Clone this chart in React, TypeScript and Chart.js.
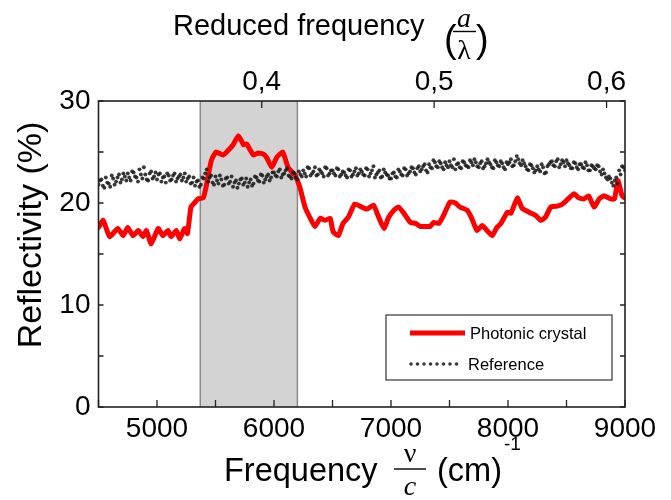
import React, { useEffect, useRef } from 'react';
import { Chart, registerables } from 'chart.js';

Chart.register(...registerables);

// ---------- data ----------
const freqMin = 4500;
const freqMax = 9000;
const latticeA = 0.4 / 5895; // reduced frequency = latticeA * frequency
const bandStart = 5370;
const bandEnd = 6200;

const xTicks = [5000, 6000, 7000, 8000, 9000];
const xTickMarks = [4500, 5000, 5500, 6000, 6500, 7000, 7500, 8000, 8500, 9000];
const yTicks = [0, 10, 20, 30];
const yTickMarks = [0, 5, 10, 15, 20, 25, 30];
const topTicks = [0.4, 0.5, 0.6];

const crystalFreq = [
  4500, 4540, 4595, 4665, 4710, 4750, 4795, 4840, 4880, 4910,
  4950, 5010, 5050, 5095, 5120, 5165, 5195, 5235, 5260, 5290,
  5320, 5350, 5395, 5420, 5465, 5505, 5565, 5620, 5650, 5695,
  5740, 5765, 5825, 5865, 5910, 5940, 5980, 6025, 6075, 6120,
  6180, 6220, 6265, 6310, 6350, 6395, 6435, 6480, 6505, 6550,
  6590, 6635, 6690, 6750, 6795, 6850, 6895, 6940, 6980, 7025,
  7065, 7110, 7165, 7210, 7250, 7295, 7335, 7365, 7410, 7450,
  7505, 7550, 7590, 7650, 7690, 7735, 7780, 7820, 7865, 7905,
  7940, 7995, 8025, 8080, 8120, 8180, 8235, 8280, 8320, 8365,
  8420, 8465, 8505, 8565, 8605, 8650, 8690, 8735, 8780, 8820,
  8880, 8910, 8940, 8975, 9000,
];
const crystalRefl = [
  17.6, 18.3, 16.7, 17.5, 16.8, 17.6, 16.8, 17.3, 16.7, 17.3,
  16.0, 17.5, 16.8, 17.3, 16.7, 17.3, 16.5, 17.5, 17.0, 19.6,
  20.0, 20.4, 20.5, 21.6, 24.2, 25.0, 24.7, 25.3, 25.7, 26.6,
  25.7, 25.8, 24.7, 24.9, 24.8, 24.4, 23.5, 24.5, 25.0, 23.5,
  22.7, 21.6, 19.6, 18.5, 17.7, 18.5, 18.3, 18.5, 17.2, 16.8,
  18.0, 18.6, 19.9, 19.6, 19.4, 19.8, 18.6, 17.5, 18.6, 19.3,
  19.6, 19.0, 18.1, 18.0, 17.7, 17.7, 17.7, 18.1, 18.0, 18.8,
  20.1, 20.0, 19.6, 19.3, 18.5, 17.3, 17.8, 17.3, 16.8, 17.6,
  18.0, 19.1, 19.0, 20.5, 19.5, 19.1, 18.8, 18.3, 18.6, 19.6,
  19.7, 19.9, 20.3, 20.9, 20.5, 20.4, 20.7, 19.6, 20.4, 20.7,
  20.4, 20.4, 22.2, 20.7, 20.5,
];

// reference measurement, two interleaved sample grids (every 25 cm^-1)
const refStartA = 4500;
const refStartB = 4512.5;
const refStep = 25;
const referenceReflA = [
  21.8, 22.3, 21.5, 22.0, 21.6, 22.4, 22.1, 22.8, 22.3, 22.6,
  22.9, 22.2, 23.0, 22.5, 23.3, 22.4, 22.8, 22.2, 23.1, 22.6,
  22.3, 22.9, 22.5, 22.0, 22.7, 22.3, 22.9, 22.4, 22.8, 22.5,
  22.1, 22.6, 22.0, 21.7, 22.2, 21.8, 22.4, 23.3, 22.5, 22.0,
  22.6, 21.9, 22.3, 21.8, 22.5, 22.1, 21.6, 22.2, 21.9, 22.4,
  22.0, 21.6, 22.3, 21.9, 22.5, 22.1, 22.7, 22.3, 22.8, 22.5,
  23.0, 22.6, 23.3, 22.8, 23.2, 22.7, 22.4, 22.9, 22.3, 22.8,
  23.2, 22.6, 23.4, 22.9, 23.5, 22.8, 23.1, 22.6, 23.4, 22.9,
  23.2, 22.7, 23.3, 22.8, 23.0, 22.5, 23.2, 22.8, 23.4, 22.9,
  23.1, 22.7, 23.3, 22.9, 23.6, 22.8, 23.2, 22.6, 23.0, 22.7,
  22.4, 23.0, 22.5, 23.1, 22.7, 23.3, 22.9, 23.5, 23.0, 23.4,
  23.1, 23.6, 23.2, 23.8, 23.4, 24.0, 23.5, 23.9, 23.3, 23.7,
  24.1, 23.5, 23.3, 23.9, 23.4, 24.0, 23.6, 24.2, 23.7, 24.0,
  23.5, 24.1, 23.6, 24.3, 23.8, 23.4, 24.0, 23.6, 23.9, 23.3,
  23.8, 24.3, 23.7, 24.6, 23.9, 24.2, 23.6, 23.2, 23.7, 23.0,
  23.6, 23.1, 23.5, 23.0, 23.8, 24.1, 23.6, 24.3, 23.8, 24.0,
  24.2, 23.7, 23.4, 23.9, 23.3, 23.8, 23.4, 23.7, 23.2, 23.6,
  23.3, 23.6, 22.8, 22.9, 22.3, 22.4, 21.7, 22.5, 23.2, 23.6,
  23.2,
];
const referenceReflB = [
  22.2, 21.7, 22.5, 21.9, 22.7, 21.8, 22.5, 22.0, 22.9, 22.2,
  22.5, 23.1, 22.6, 22.1, 22.8, 23.5, 22.3, 22.9, 22.4, 23.0,
  22.8, 22.1, 22.6, 22.9, 22.2, 22.7, 22.1, 22.6, 22.2, 22.9,
  22.4, 21.9, 22.5, 22.1, 21.6, 22.5, 22.9, 22.1, 22.7, 21.8,
  22.2, 22.7, 21.7, 22.4, 21.9, 22.6, 22.0, 21.5, 22.3, 21.8,
  22.4, 22.0, 21.7, 22.6, 22.2, 22.8, 22.0, 22.6, 22.2, 23.0,
  22.7, 23.1, 22.5, 22.9, 23.4, 22.6, 23.0, 22.5, 23.1, 22.6,
  22.9, 23.5, 22.7, 23.1, 22.7, 23.3, 22.9, 23.5, 22.7, 23.2,
  22.9, 23.4, 22.6, 23.1, 22.7, 23.3, 22.6, 23.1, 22.7, 23.3,
  22.8, 23.4, 22.6, 23.2, 22.5, 23.0, 22.5, 23.3, 22.8, 22.4,
  22.9, 22.6, 23.3, 22.8, 23.4, 22.7, 23.1, 23.4, 22.8, 23.6,
  23.3, 23.8, 23.0, 23.5, 24.2, 23.6, 24.1, 23.5, 24.0, 23.5,
  23.7, 24.3, 23.8, 23.5, 24.1, 23.7, 23.5, 24.0, 24.3, 23.6,
  23.9, 23.4, 23.9, 24.0, 23.5, 24.2, 23.7, 24.1, 23.5, 24.0,
  24.0, 23.6, 24.1, 24.3, 23.7, 23.9, 23.3, 23.8, 23.4, 23.2,
  23.3, 23.8, 22.9, 23.6, 24.0, 23.7, 24.1, 23.5, 24.2, 23.6,
  23.9, 23.4, 24.0, 23.5, 23.8, 23.5, 24.0, 23.2, 23.7, 23.4,
  23.7, 23.1, 23.3, 22.5, 22.6, 22.0, 22.2, 21.9, 22.8, 23.5,
];

const legendLabels = ['Photonic crystal', 'Reference'];

// ---------- styles ----------
const SANS = '"Liberation Sans", Arial, Helvetica, sans-serif';
const SERIF = '"Liberation Serif", "DejaVu Serif", serif';
const RED = 'rgb(255,0,0)';
const DOT = 'rgba(30,30,30,0.88)';

const decor = {
  id: 'decor',
  beforeDatasetsDraw(chart: any) {
    const { ctx, chartArea: a, scales } = chart;
    const x = scales.x;
    const x0 = x.getPixelForValue(bandStart);
    const x1 = x.getPixelForValue(bandEnd);
    ctx.save();
    ctx.fillStyle = '#d3d3d3';
    ctx.fillRect(x0, a.top, x1 - x0, a.bottom - a.top);
    ctx.strokeStyle = '#8a8a8a';
    ctx.lineWidth = 1.5;
    ctx.beginPath();
    ctx.moveTo(x0, a.top);
    ctx.lineTo(x0, a.bottom);
    ctx.moveTo(x1, a.top);
    ctx.lineTo(x1, a.bottom);
    ctx.stroke();
    ctx.restore();
  },
  afterDatasetsDraw(chart: any) {
    const { ctx, chartArea: a, scales } = chart;
    const x = scales.x;
    const x2 = scales.x2;
    const y = scales.y;
    ctx.save();
    ctx.strokeStyle = '#222';
    ctx.lineWidth = 1.6;
    ctx.strokeRect(a.left, a.top, a.right - a.left, a.bottom - a.top);
    ctx.lineWidth = 1.3;
    ctx.beginPath();
    xTickMarks.forEach((v) => {
      const px = x.getPixelForValue(v);
      ctx.moveTo(px, a.bottom);
      ctx.lineTo(px, a.bottom - 7);
    });
    topTicks.forEach((v) => {
      const px = x2.getPixelForValue(v);
      ctx.moveTo(px, a.top);
      ctx.lineTo(px, a.top + 7);
    });
    yTickMarks.forEach((v) => {
      const py = y.getPixelForValue(v);
      ctx.moveTo(a.left, py);
      ctx.lineTo(a.left + 5, py);
      ctx.moveTo(a.right, py);
      ctx.lineTo(a.right - 5, py);
    });
    ctx.stroke();

    // legend
    const lx = 386, ly = 315, lw = 226, lh = 65;
    ctx.fillStyle = '#fff';
    ctx.fillRect(lx, ly, lw, lh);
    ctx.strokeStyle = '#333';
    ctx.lineWidth = 1.2;
    ctx.strokeRect(lx, ly, lw, lh);
    ctx.strokeStyle = RED;
    ctx.lineWidth = 5;
    ctx.beginPath();
    ctx.moveTo(410, 333);
    ctx.lineTo(465, 333);
    ctx.stroke();
    ctx.fillStyle = DOT;
    for (let px = 411; px <= 460; px += 6.5) {
      ctx.beginPath();
      ctx.arc(px, 364, 1.8, 0, Math.PI * 2);
      ctx.fill();
    }
    ctx.fillStyle = '#000';
    ctx.font = `16.5px ${SANS}`;
    ctx.textAlign = 'left';
    ctx.textBaseline = 'middle';
    ctx.fillText(legendLabels[0], 470, 334);
    ctx.fillText(legendLabels[1], 468, 365);
    ctx.restore();
  },
  afterDraw(chart: any) {
    const { ctx } = chart;
    ctx.save();
    ctx.fillStyle = '#000';
    ctx.strokeStyle = '#000';
    ctx.textBaseline = 'alphabetic';

    // top title
    ctx.textAlign = 'left';
    ctx.font = `29px ${SANS}`;
    ctx.fillText('Reduced frequency', 173, 35);
    ctx.font = `38px ${SANS}`;
    ctx.fillText('(', 444, 52);
    ctx.fillText(')', 476, 52);
    ctx.textAlign = 'center';
    ctx.font = `italic 28px ${SERIF}`;
    ctx.fillText('a', 464, 27);
    ctx.font = `28px ${SERIF}`;
    ctx.fillText('λ', 464, 59);
    ctx.lineWidth = 1.4;
    ctx.beginPath();
    ctx.moveTo(453, 31.5);
    ctx.lineTo(476, 31.5);
    ctx.stroke();

    // bottom title
    ctx.textAlign = 'left';
    ctx.font = `32.5px ${SANS}`;
    ctx.fillText('Frequency', 224, 481);
    ctx.fillText('(cm)', 437, 481);
    ctx.font = `19px ${SANS}`;
    ctx.fillText('-1', 504, 450);
    ctx.textAlign = 'center';
    ctx.font = `28px ${SERIF}`;
    ctx.fillText('ν', 410, 462);
    ctx.font = `italic 28px ${SERIF}`;
    ctx.fillText('c', 410, 495);
    ctx.beginPath();
    ctx.moveTo(394, 469);
    ctx.lineTo(426, 469);
    ctx.stroke();

    // left title
    ctx.translate(41, 235);
    ctx.rotate(-Math.PI / 2);
    ctx.textAlign = 'center';
    ctx.font = `34px ${SANS}`;
    ctx.fillText('Reflectivity (%)', 0, 0);
    ctx.restore();
  },
};

export default function App() {
  const ref = useRef<HTMLCanvasElement | null>(null);

  useEffect(() => {
    if (!ref.current) return;
    const crystal = crystalFreq.map((f, i) => ({ x: f, y: crystalRefl[i] }));
    const referenceA = referenceReflA.map((r, i) => ({ x: refStartA + i * refStep, y: r }));
    const referenceB = referenceReflB.map((r, i) => ({ x: refStartB + i * refStep, y: r }));
    const tickFont = { family: SANS, size: 28 };
    const dotStyle = {
      showLine: false,
      pointRadius: 1.95,
      pointBackgroundColor: DOT,
      pointBorderWidth: 0,
      borderColor: DOT,
      backgroundColor: DOT,
    };

    const chart = new Chart(ref.current, {
      type: 'line',
      data: {
        datasets: [
          { label: legendLabels[1], data: referenceA, ...dotStyle },
          { label: legendLabels[1] + ' ', data: referenceB, ...dotStyle },
          {
            label: legendLabels[0],
            data: crystal,
            borderColor: RED,
            backgroundColor: RED,
            borderWidth: 5,
            pointRadius: 0,
            tension: 0.15,
            borderJoinStyle: 'round',
            borderCapStyle: 'round',
          },
        ],
      },
      options: {
        responsive: false,
        animation: false,
        events: [],
        devicePixelRatio: 1,
        layout: { padding: { left: 0, right: 46, top: 0, bottom: 0 } },
        plugins: { legend: { display: false }, tooltip: { enabled: false } },
        scales: {
          x: {
            type: 'linear',
            position: 'bottom',
            min: freqMin,
            max: freqMax,
            afterBuildTicks: (s: any) => {
              s.ticks = xTicks.map((v) => ({ value: v }));
            },
            afterFit: (s: any) => {
              s.height = 93;
            },
            grid: { display: false, drawTicks: false },
            border: { display: false },
            ticks: {
              font: tickFont,
              color: '#000',
              padding: 5,
              autoSkip: false,
              maxRotation: 0,
              callback: (v: any) => String(v),
            },
          },
          x2: {
            type: 'linear',
            position: 'top',
            min: freqMin * latticeA,
            max: freqMax * latticeA,
            afterBuildTicks: (s: any) => {
              s.ticks = topTicks.map((v) => ({ value: v }));
            },
            afterFit: (s: any) => {
              s.height = 101;
            },
            grid: { display: false, drawTicks: false },
            border: { display: false },
            ticks: {
              font: tickFont,
              color: '#000',
              padding: 2,
              autoSkip: false,
              maxRotation: 0,
              callback: (v: any) => Number(v).toFixed(1).replace('.', ','),
            },
          },
          y: {
            type: 'linear',
            position: 'left',
            min: 0,
            max: 30,
            afterBuildTicks: (s: any) => {
              s.ticks = yTicks.map((v) => ({ value: v }));
            },
            afterFit: (s: any) => {
              s.width = 98.5;
            },
            grid: { display: false, drawTicks: false },
            border: { display: false },
            ticks: {
              font: tickFont,
              color: '#000',
              padding: 8,
              autoSkip: false,
              callback: (v: any) => String(v),
            },
          },
        },
      },
      plugins: [decor],
    } as any);

    return () => chart.destroy();
  }, []);

  return (
    <div style={{ position: 'fixed', left: 0, top: 0, width: 671, height: 500, background: '#fff' }}>
      <canvas ref={ref} width={671} height={500} style={{ width: 671, height: 500, display: 'block' }} />
    </div>
  );
}
